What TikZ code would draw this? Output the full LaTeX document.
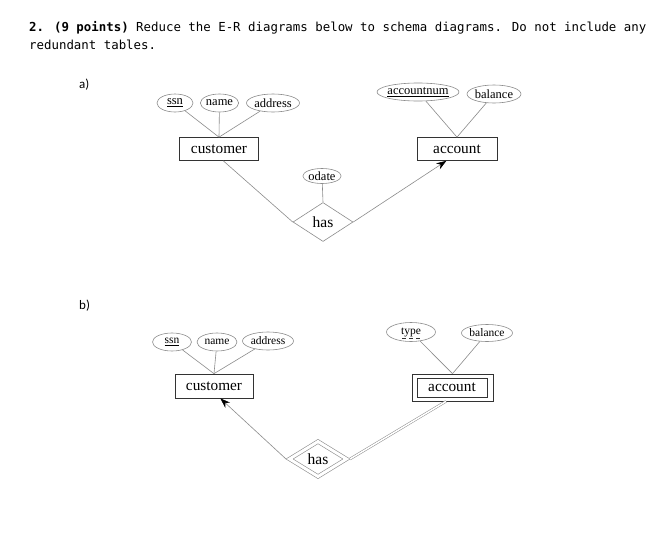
\documentclass[tikz,border=0pt]{standalone}
\usepackage{fontspec}
\setmainfont{Liberation Serif}
\newfontfamily\monof{DejaVu Sans Mono}
\newfontfamily\labf{Carlito}
\usetikzlibrary{shapes.geometric,arrows.meta,calc}
\begin{document}
\begin{tikzpicture}[x=1pt,y=-1pt,
  every node/.style={inner sep=0pt},
  attrA/.style={ellipse,draw=gray!90,line width=0.6pt,minimum height=18pt,font=\fontsize{12.5}{14}\selectfont},
  attrB/.style={ellipse,draw=gray!90,line width=0.6pt,minimum height=18pt,font=\fontsize{11.5}{13}\selectfont},
  entity/.style={rectangle,draw=black!80,line width=0.7pt,minimum height=23pt,font=\fontsize{15.3}{17}\selectfont},
  rel/.style={diamond,draw=gray!90,line width=0.6pt,font=\fontsize{15.5}{17}\selectfont},
  conn/.style={draw=gray!90,line width=0.6pt},
  tip/.style={-{Stealth[length=10pt,width=7pt,black]}},
  dbl/.style={double=white,double distance=3pt,outer sep=2.5pt},
  titletext/.style={anchor=base west,font=\monof\fontsize{12.4}{15}\selectfont},
  labeltext/.style={anchor=base west,font=\labf\fontsize{13}{15}\selectfont}
]
\useasboundingbox[fill=white] (0,0) rectangle (662,541);

% title
\node[titletext] (t1) at (29,31) {\textbf{2. (9 points)} Reduce the E-R diagrams below to schema diagrams. Do not include any};
\node[titletext] (t2) at (29,49) {redundant tables.};
\node[labeltext] (la) at (79,88) {a)};
\node[labeltext] (lb) at (79,309) {b)};

% ---------- diagram a ----------
\node[attrA,minimum width=36pt] (ssnA) at (175,103) {\underline{ssn}};
\node[attrA,minimum width=35pt] (nameA) at (219.5,103) {name};
\node[attrA,minimum width=50pt] (addrA) at (273,103) {address};
\node[entity,minimum width=79pt] (custA) at (219,149) {customer};

\node[attrA,minimum width=82pt,inner xsep=-2.5pt] (anumA) at (418,92) {\underline{accountnum}};
\node[attrA,minimum width=50pt] (balA) at (494,94) {balance};
\node[entity,minimum width=80pt] (acctA) at (457,149) {account};

\node[attrA,minimum width=37pt,minimum height=15pt] (odateA) at (322,176) {odate};
\node[rel,minimum width=60pt,minimum height=39pt] (hasA) at (323,222) {has};

\draw[conn] (ssnA) -- (custA.north);
\draw[conn] (nameA) -- (custA.north);
\draw[conn] (addrA) -- (custA.north);
\draw[conn] (anumA) -- (acctA.north);
\draw[conn] (balA) -- (acctA.north);
\draw[conn] (odateA) -- (hasA.north);
\draw[conn] (custA.290) -- (hasA.west);
\draw[conn,tip] (hasA.east) -- (acctA.228);

% ---------- diagram b ----------
\node[attrB,minimum width=39pt] (ssnB) at (172,342) {\underline{ssn}};
\node[attrB,minimum width=40pt] (nameB) at (217,342) {name};
\node[attrB,minimum width=51pt] (addrB) at (268,341) {address};
\node[entity,minimum width=78pt,minimum height=24pt] (custB) at (214,386) {customer};

\node[attrB,minimum width=49pt,minimum height=19pt] (typeB) at (411,332) {type};
\draw[black!80,line width=0.6pt,dash pattern=on 4pt off 3pt] ($(typeB.center)+(-9,6.5)$) -- ($(typeB.center)+(10,6.5)$);
\node[attrB,minimum width=51pt,minimum height=17pt] (balB) at (487,333) {balance};
\node[entity,minimum width=81pt,minimum height=27pt] (acctBo) at (452.5,387.5) {};
\node[entity,minimum width=70pt,minimum height=19pt] (acctB) at (452,387.5) {account};

\node[rel,dbl,minimum width=59pt,minimum height=37pt] (hasB) at (318,459) {has};

\draw[conn] (ssnB) -- (custB.north);
\draw[conn] (nameB) -- (custB.north);
\draw[conn] (addrB) -- (custB.north);
\draw[conn] (typeB) -- (acctBo.north);
\draw[conn] (balB) -- (acctBo.north);
\draw[conn,tip] (hasB.west) -- (custB.297);
\draw[conn,line width=0.5pt,double=white,double distance=1.5pt] (hasB.east) -- (acctBo.245);
\end{tikzpicture}
\end{document}
